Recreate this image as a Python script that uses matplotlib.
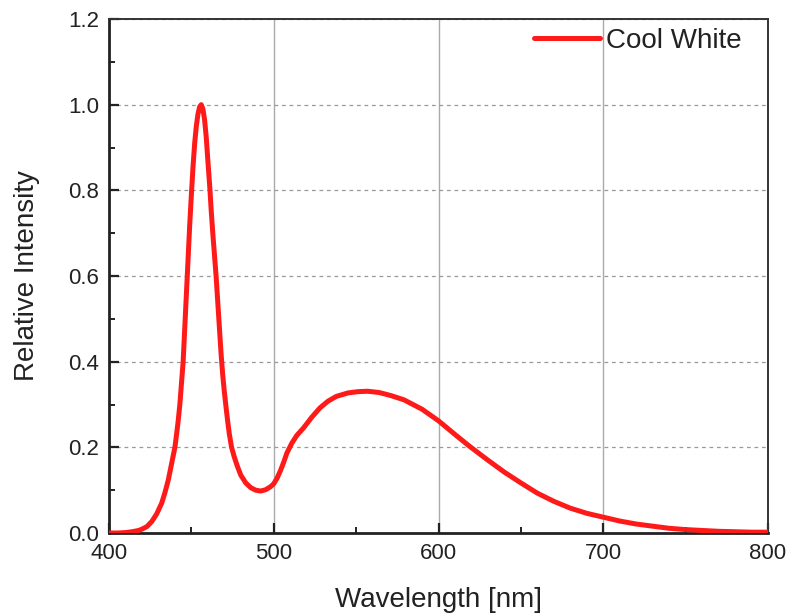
import matplotlib
matplotlib.use("Agg")
import matplotlib.pyplot as plt
from matplotlib.ticker import MultipleLocator

# spectrum (nm, relative intensity)
wavelength = [400, 405, 410, 414, 418, 420, 423, 426, 429, 432, 434, 436, 438, 440,
              441, 442, 443, 444, 445, 446, 447, 448, 449, 450, 451, 452, 453, 454,
              455, 456, 457, 458, 459, 460, 461.3, 462, 463, 464, 465, 466, 467, 468,
              469, 470, 471, 472, 473, 474.4, 476, 478, 480, 483, 486, 489, 492, 495,
              498, 500, 502, 504, 506, 508, 511, 514, 518, 523, 528, 533, 538, 545, 551,
              557, 564, 571, 579, 590, 600, 610, 619, 630, 640, 650, 660, 670, 680, 690,
              700, 710, 720, 730, 740, 750, 760, 770, 780, 790, 800]
intensity = [0.0, 0.0, 0.001, 0.003, 0.006, 0.009, 0.015, 0.027, 0.045, 0.070, 0.095,
             0.124, 0.162, 0.200, 0.230, 0.262, 0.300, 0.350, 0.400, 0.480, 0.560, 0.640,
             0.720, 0.790, 0.855, 0.910, 0.950, 0.978, 0.995, 1.0, 0.990, 0.965, 0.925,
             0.870, 0.800, 0.755, 0.700, 0.650, 0.600, 0.540, 0.480, 0.420, 0.370, 0.330,
             0.295, 0.262, 0.232, 0.200, 0.178, 0.155, 0.135, 0.117, 0.106, 0.100, 0.098,
             0.101, 0.108, 0.115, 0.128, 0.145, 0.165, 0.187, 0.210, 0.228, 0.245, 0.270,
             0.292, 0.308, 0.319, 0.327, 0.330, 0.331, 0.328, 0.321, 0.311, 0.289, 0.262,
             0.230, 0.202, 0.170, 0.142, 0.117, 0.093, 0.074, 0.058, 0.046, 0.037, 0.028,
             0.021, 0.016, 0.011, 0.008, 0.006, 0.004, 0.003, 0.002, 0.002]
series_label = "Cool White"

plt.rcParams["font.family"] = ["Liberation Sans", "DejaVu Sans"]

fig = plt.figure(figsize=(7.87, 6.15), dpi=100)
ax = fig.add_axes([0.1385, 0.1333, 0.8374, 0.8358])

ax.plot(wavelength, intensity, color="#ff1a1a", lw=3.6, label=series_label,
        solid_capstyle="round", solid_joinstyle="round", zorder=3)

ax.set_xlim(400, 800)
ax.set_ylim(0, 1.2)
ax.xaxis.set_major_locator(MultipleLocator(100))
ax.xaxis.set_minor_locator(MultipleLocator(50))
ax.yaxis.set_major_locator(MultipleLocator(0.2))
ax.yaxis.set_minor_locator(MultipleLocator(0.1))
ax.yaxis.set_major_formatter(plt.FuncFormatter(lambda v, p: f"{v:.1f}"))

ax.tick_params(which="both", direction="in", top=False, right=False, labelsize=16,
               color="#222222", labelcolor="#222222")
ax.tick_params(which="major", length=7, width=1.6, pad=7)
ax.tick_params(which="minor", length=4, width=1.4)

ax.grid(axis="x", which="major", color="#aaaaaa", lw=1.0, ls="-")
ax.grid(axis="y", which="major", color="#999999", lw=0.9, ls=(0, (3, 3)))

for side in ["left", "bottom"]:
    ax.spines[side].set_linewidth(2.0)
    ax.spines[side].set_color("#222222")
for side in ["top", "right"]:
    ax.spines[side].set_linewidth(1.4)
    ax.spines[side].set_color("#333333")

ax.set_xlabel("Wavelength [nm]", fontsize=20, color="#222222", labelpad=17)
ax.set_ylabel("Relative Intensity", fontsize=20, color="#222222", labelpad=20)

leg = ax.legend(loc="upper right", bbox_to_anchor=(0.985, 1.0156), frameon=False,
                fontsize=20, handlelength=2.4, handletextpad=0.2, borderaxespad=0.2,
                borderpad=0.4)
for t in leg.get_texts():
    t.set_color("#222222")

fig.savefig("out.png", dpi=100)
